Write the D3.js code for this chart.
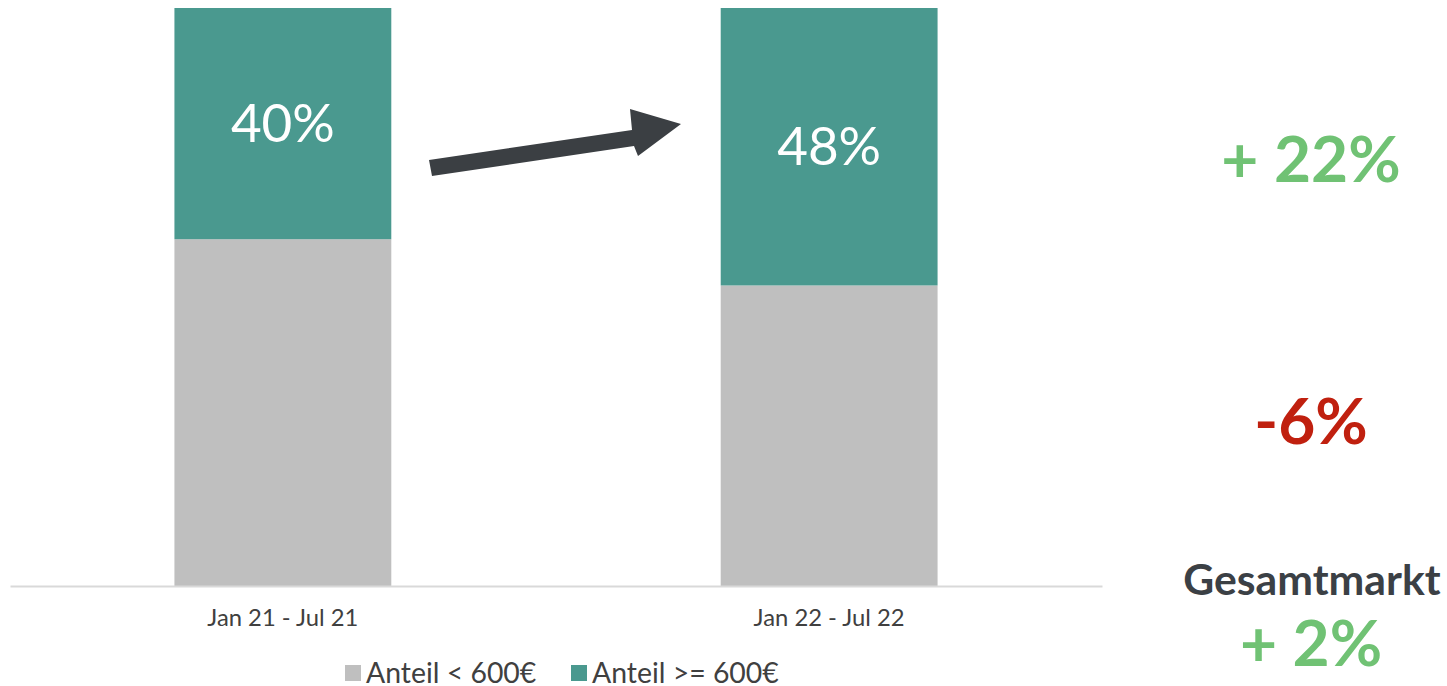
<!DOCTYPE html>
<html>
<head>
<meta charset="utf-8">
<script src="https://cdn.jsdelivr.net/npm/d3@7"></script>
<style>
  html, body { margin: 0; padding: 0; background: #fff; }
  svg { display: block; font-family: Lato, "Noto Sans", sans-serif; }
</style>
</head>
<body>
<svg id="chart" width="1447" height="686"></svg>
<script>
// Periods and share of sales by price band (percent of total)
const periods = ["Jan 21 - Jul 21", "Jan 22 - Jul 22"];
const shareBelow600 = [60, 52];
const shareAbove600 = [40, 48];
const seriesNames = ["Anteil < 600€", "Anteil >= 600€"];
const seriesColors = ["#BFBFBF", "#4A998F"];

// Change figures shown on the right
const changeAbove = "+ 22%";
const changeBelow = "-6%";
const marketLabel = "Gesamtmarkt";
const changeMarket = "+ 2%";

const svg = d3.select("#chart");

const x = d3.scaleBand()
  .domain(periods)
  .range([10, 1102])
  .paddingInner(0.603)
  .paddingOuter(0.301);

const y = d3.scaleLinear().domain([0, 100]).range([586, 8]);

const rows = periods.map((p, i) => ({ period: p, below: shareBelow600[i], above: shareAbove600[i] }));
const stack = d3.stack().keys(["below", "above"])(rows);

// Stacked bars
svg.append("g").selectAll("g")
  .data(stack)
  .join("g")
  .attr("fill", (d, i) => seriesColors[i])
  .selectAll("rect")
  .data(d => d)
  .join("rect")
  .attr("x", d => x(d.data.period))
  .attr("width", x.bandwidth())
  .attr("y", d => y(d[1]))
  .attr("height", d => y(d[0]) - y(d[1]));

// Value labels inside the upper segment
svg.append("g").selectAll("text")
  .data(stack[1])
  .join("text")
  .attr("x", d => x(d.data.period) + x.bandwidth() / 2)
  .attr("y", d => (y(d[0]) + y(d[1])) / 2)
  .attr("dy", "0.35em")
  .attr("text-anchor", "middle")
  .attr("fill", "#fff")
  .style("font-size", "53px")
  .text(d => d.data.above + "%");

// Baseline axis with category labels
const axis = svg.append("g")
  .attr("transform", `translate(0,${y(0)})`)
  .call(d3.axisBottom(x).tickSize(0).tickPadding(23));
axis.select(".domain").attr("stroke", "#D9D9D9").attr("stroke-width", 2);
axis.selectAll("text")
  .style("font-family", "Lato, sans-serif")
  .style("font-size", "23.8px")
  .attr("fill", "#404040");

// Arrow between the bars
const arrow = d3.path();
arrow.moveTo(429, 160);
arrow.lineTo(632, 130);
arrow.lineTo(630, 109);
arrow.lineTo(681, 124);
arrow.lineTo(638, 156);
arrow.lineTo(634, 146);
arrow.lineTo(432, 176);
arrow.closePath();
svg.append("path").attr("d", arrow.toString()).attr("fill", "#3B3F43");

// Legend
const legend = svg.append("g").attr("transform", "translate(0,673)");
const legendX = [345, 571];
seriesNames.forEach((name, i) => {
  legend.append("rect")
    .attr("x", legendX[i]).attr("y", -8)
    .attr("width", 16).attr("height", 16)
    .attr("fill", seriesColors[i]);
  legend.append("text")
    .attr("x", legendX[i] + 21).attr("y", 0)
    .attr("dy", "0.35em")
    .attr("fill", "#404040")
    .style("font-size", "28.4px")
    .text(name);
});

// Change annotations
const cx = 1311;
svg.append("text").attr("x", cx).attr("y", 182).attr("text-anchor", "middle")
  .attr("fill", "#70C274").style("font-size", "64px").style("font-weight", "bold")
  .text(changeAbove);
svg.append("text").attr("x", cx).attr("y", 444).attr("text-anchor", "middle")
  .attr("fill", "#C0200F").style("font-size", "64px").style("font-weight", "bold")
  .text(changeBelow);
svg.append("text").attr("x", cx + 1).attr("y", 595).attr("text-anchor", "middle")
  .attr("fill", "#3B4045").style("font-size", "42.7px").style("font-weight", "bold")
  .text(marketLabel);
svg.append("text").attr("x", cx).attr("y", 666).attr("text-anchor", "middle")
  .attr("fill", "#70C274").style("font-size", "64px").style("font-weight", "bold")
  .text(changeMarket);
</script>
</body>
</html>
